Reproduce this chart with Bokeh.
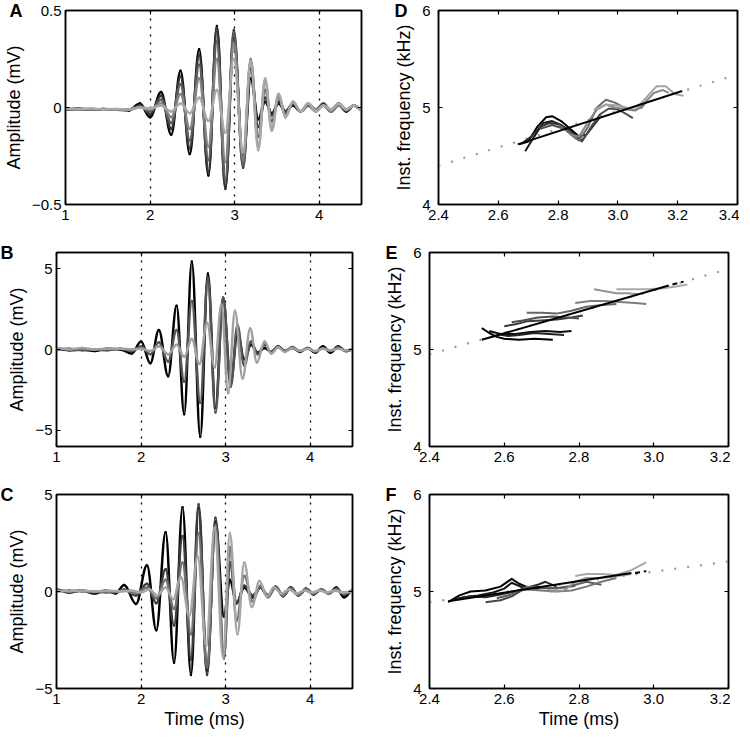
from bokeh.plotting import figure
from bokeh.models import Range1d, LinearAxis, FixedTicker, Title, PrintfTickFormatter, ColumnDataSource
from bokeh.layouts import column, row
from bokeh.embed import file_html
from bokeh.resources import INLINE

FONT = "Liberation Sans"
TICK_SIZE = "15px"
AXLAB_SIZE = "18px"

# ---------------- left panels: waveforms (successive extrema) ----------------
tA = [1.00, 1.15, 1.30, 1.45, 1.60, 1.75, 1.88, 2.00, 2.13, 2.25, 2.36, 2.47, 2.58, 2.69, 2.79, 2.89, 2.99,
      3.10, 3.19, 3.28, 3.36, 3.44, 3.52, 3.60, 3.69, 3.78, 3.87, 3.96, 4.05, 4.14, 4.23, 4.32, 4.41, 4.50]
vA1 = [-0.01, -0.005, -0.012, -0.008, -0.012, -0.015, 0.02, -0.05, 0.08, -0.14, 0.19, -0.24, 0.30, -0.35, 0.42, -0.41, 0.36,
       -0.27, 0.15, -0.06, 0.03, -0.03, 0.02, -0.02, 0.01, -0.02, 0.01, -0.01, 0.01, -0.02, 0.02, -0.02, 0.01, -0.01]
vA2 = [-0.01, -0.008, -0.01, -0.01, -0.01, -0.012, 0.012, -0.035, 0.06, -0.11, 0.16, -0.21, 0.27, -0.33, 0.41, -0.42, 0.40,
       -0.31, 0.20, -0.10, 0.05, -0.04, 0.03, -0.02, 0.02, -0.02, 0.01, -0.01, 0.02, -0.02, 0.01, -0.02, 0.01, -0.01]
vA3 = [-0.008, -0.01, -0.008, -0.01, -0.01, -0.01, 0.005, -0.02, 0.04, -0.08, 0.12, -0.17, 0.22, -0.27, 0.34, -0.37, 0.38,
       -0.30, 0.24, -0.15, 0.09, -0.07, 0.05, -0.03, 0.02, -0.02, 0.01, -0.02, 0.01, -0.01, 0.02, -0.01, 0.01, -0.01]
vA4 = [-0.008, -0.008, -0.01, -0.008, -0.01, -0.01, 0.0, -0.01, 0.02, -0.05, 0.07, -0.11, 0.15, -0.20, 0.25, -0.28, 0.33,
       -0.27, 0.25, -0.20, 0.14, -0.11, 0.07, -0.05, 0.03, -0.02, 0.02, -0.01, 0.01, -0.02, 0.01, -0.01, 0.01, -0.01]
vA5 = [-0.005, -0.008, -0.005, -0.01, -0.008, -0.01, 0.0, -0.005, 0.01, -0.02, 0.02, -0.03, 0.05, -0.07, 0.09, -0.13, 0.25,
       -0.23, 0.24, -0.22, 0.15, -0.12, 0.07, -0.05, 0.03, -0.02, 0.02, -0.02, 0.01, -0.01, 0.02, -0.01, 0.01, -0.01]

tB = [1.00, 1.15, 1.30, 1.45, 1.60, 1.75, 1.89, 2.00, 2.11, 2.21, 2.32, 2.42, 2.51, 2.60, 2.70, 2.79, 2.88, 2.97,
      3.06, 3.14, 3.22, 3.30, 3.38, 3.46, 3.54, 3.62, 3.70, 3.79, 3.88, 3.97, 4.06, 4.15, 4.24, 4.33, 4.42, 4.50]
vB1 = [0.05, -0.05, 0.0, -0.1, 0.05, 0.0, -0.25, 0.5, -0.85, 1.2, -1.65, 2.7, -4.0, 5.45, -5.4, 4.7, -3.6, 3.2,
       -2.0, 1.0, -0.6, 0.3, -0.2, 0.1, -0.15, 0.2, -0.1, 0.1, -0.15, 0.1, -0.2, 0.2, -0.2, 0.2, -0.1, 0.0]
vB2 = [0.0, 0.05, -0.05, 0.0, -0.05, 0.05, -0.1, 0.2, -0.3, 0.45, -0.75, 1.2, -2.0, 3.0, -3.3, 4.4, -3.9, 3.2,
       -2.3, 1.5, -1.0, 0.5, -0.3, 0.3, -0.2, 0.15, -0.1, 0.15, -0.1, 0.1, -0.15, 0.1, -0.1, 0.15, -0.1, 0.0]
tB3 = [1.00, 1.15, 1.30, 1.45, 1.60, 1.75, 1.89, 2.00, 2.11, 2.21, 2.32, 2.42, 2.51, 2.60, 2.69, 2.78, 2.87, 2.95,
       3.03, 3.11, 3.20, 3.29, 3.37, 3.46, 3.54, 3.62, 3.70, 3.79, 3.88, 3.97, 4.06, 4.15, 4.24, 4.33, 4.42, 4.50]
vB3 = [0.1, 0.0, 0.1, 0.0, 0.05, 0.05, 0.0, 0.05, -0.1, 0.2, -0.3, 0.3, -0.45, 0.65, -0.9, 1.65, -1.1, 2.8,
       -2.7, 2.4, -1.8, 1.3, -0.8, 0.5, -0.25, 0.15, -0.15, 0.1, -0.1, 0.05, -0.1, 0.05, -0.05, 0.05, -0.05, 0.0]

tC = [1.00, 1.15, 1.30, 1.45, 1.58, 1.70, 1.80, 1.94, 2.07, 2.18, 2.29, 2.39, 2.49, 2.59, 2.68, 2.78, 2.88,
      2.98, 3.05, 3.13, 3.22, 3.32, 3.41, 3.50, 3.59, 3.68, 3.77, 3.86, 3.95, 4.04, 4.13, 4.22, 4.31, 4.40, 4.50]
vC1 = [0.1, -0.05, 0.05, -0.1, 0.05, -0.1, 0.34, -0.64, 1.35, -2.0, 3.06, -3.67, 4.34, -4.3, 4.3, -4.1, 3.6,
       -1.3, 0.6, -0.6, 0.2, -0.3, 0.2, -0.2, 0.25, -0.2, 0.2, -0.2, 0.1, -0.15, 0.1, -0.1, 0.2, -0.3, 0.05]
vC2 = [0.05, 0.0, 0.05, -0.05, 0.0, -0.05, 0.1, -0.2, 0.4, -0.6, 1.15, -1.75, 2.86, -3.5, 4.5, -4.3, 3.8,
       -3.3, 1.5, -0.6, 0.3, -0.2, 0.2, -0.2, 0.2, -0.25, 0.2, -0.2, 0.15, -0.1, 0.1, -0.1, 0.15, -0.15, 0.05]
vC3 = [0.0, 0.05, 0.0, 0.0, -0.05, 0.0, 0.05, -0.1, 0.2, -0.35, 0.6, -0.9, 1.5, -2.2, 3.0, -3.9, 3.4,
       -3.45, 2.3, -1.5, 0.8, -0.5, 0.3, -0.3, 0.2, -0.2, 0.15, -0.2, 0.1, -0.1, 0.1, -0.1, 0.1, -0.1, 0.0]
tC4 = [1.00, 1.15, 1.30, 1.45, 1.60, 1.75, 1.88, 2.00, 2.10, 2.19, 2.29, 2.38, 2.47, 2.57, 2.67, 2.77, 2.87,
       2.97, 3.05, 3.14, 3.22, 3.31, 3.40, 3.49, 3.57, 3.66, 3.75, 3.84, 3.93, 4.02, 4.11, 4.20, 4.29, 4.38, 4.50]
vC4 = [0.05, 0.0, 0.05, 0.0, 0.05, 0.0, 0.05, -0.05, 0.1, -0.2, 0.2, -0.4, 0.75, -1.26, 1.8, -2.8, 3.3,
       -3.4, 3.0, -2.2, 1.5, -0.8, 0.54, -0.25, 0.2, -0.1, 0.1, -0.1, 0.05, -0.05, 0.05, -0.05, 0.05, -0.05, 0.0]

wave_grid_times = [2, 3, 4]

# ---------------- right panels: instantaneous frequency ----------------
dT = [
    [2.67, 2.70, 2.73, 2.76, 2.78, 2.81, 2.84, 2.87, 2.89],
    [2.69, 2.72, 2.75, 2.78, 2.81, 2.84, 2.87],
    [2.68, 2.71, 2.74, 2.77, 2.80, 2.83, 2.86, 2.88, 2.91, 2.94],
    [2.74, 2.78, 2.82, 2.86, 2.88, 2.91, 2.94, 2.97, 3.00, 3.03, 3.05],
    [2.80, 2.84, 2.87, 2.90, 2.93, 2.96, 2.99, 3.02, 3.05, 3.08, 3.10],
    [2.84, 2.87, 2.90, 2.93, 2.96, 2.99, 3.03, 3.06, 3.09, 3.12, 3.15, 3.17],
    [2.92, 2.96, 3.00, 3.04, 3.07, 3.10, 3.13, 3.16, 3.19, 3.22],
]
dF = [
    [4.62, 4.65, 4.80, 4.90, 4.91, 4.86, 4.78, 4.70, 4.72],
    [4.55, 4.70, 4.84, 4.86, 4.82, 4.75, 4.69],
    [4.63, 4.70, 4.80, 4.84, 4.83, 4.78, 4.70, 4.66, 4.78, 4.90],
    [4.78, 4.82, 4.78, 4.68, 4.65, 4.80, 4.93, 4.99, 4.98, 4.93, 4.89],
    [4.82, 4.74, 4.66, 4.80, 5.00, 5.08, 5.05, 5.00, 4.97, 5.00, 5.08],
    [4.72, 4.70, 4.85, 4.98, 5.03, 5.00, 4.98, 4.97, 5.05, 5.15, 5.18, 5.15],
    [4.98, 5.03, 5.02, 4.99, 5.02, 5.12, 5.22, 5.22, 5.14, 5.12],
]
d_fit_t, d_fit_f = [2.665, 3.215], [4.62, 5.17]
d_ext_t, d_ext_f = [2.40, 3.40], [4.40, 5.34]

eT = [
    [2.54, 2.56, 2.58, 2.60, 2.64, 2.68, 2.73],
    [2.56, 2.59, 2.63, 2.67, 2.71, 2.75, 2.78],
    [2.58, 2.61, 2.64, 2.68, 2.72, 2.76],
    [2.60, 2.63, 2.66, 2.70, 2.74, 2.78, 2.81],
    [2.62, 2.65, 2.69, 2.73, 2.77, 2.80],
    [2.66, 2.70, 2.74, 2.78, 2.82, 2.86, 2.90],
    [2.79, 2.83, 2.87, 2.91, 2.95, 2.98],
    [2.84, 2.87, 2.90, 2.93, 2.96],
    [2.90, 2.94, 2.98, 3.02, 3.06, 3.09],
]
eF = [
    [5.22, 5.17, 5.13, 5.11, 5.10, 5.11, 5.10],
    [5.19, 5.16, 5.16, 5.18, 5.19, 5.18, 5.19],
    [5.16, 5.14, 5.15, 5.17, 5.16, 5.15],
    [5.24, 5.26, 5.29, 5.30, 5.31, 5.33, 5.35],
    [5.28, 5.30, 5.33, 5.34, 5.33, 5.32],
    [5.38, 5.38, 5.37, 5.40, 5.44, 5.46, 5.47],
    [5.48, 5.50, 5.50, 5.49, 5.48, 5.47],
    [5.62, 5.60, 5.58, 5.58, 5.57],
    [5.62, 5.62, 5.62, 5.63, 5.65, 5.67],
]
e_fit_t, e_fit_f = [2.54, 3.04], [5.10, 5.66]
e_ext_t, e_ext_f = [2.40, 3.20], [4.95, 5.83]
e_dash_t, e_dash_f = [3.05, 3.08], [5.67, 5.70]

fT = [
    [2.45, 2.48, 2.51, 2.55, 2.59, 2.62, 2.64, 2.67],
    [2.46, 2.49, 2.53, 2.57, 2.60, 2.62, 2.65, 2.68, 2.71],
    [2.47, 2.51, 2.55, 2.59, 2.63, 2.66, 2.69, 2.71, 2.74],
    [2.55, 2.59, 2.62, 2.65, 2.68, 2.72, 2.76, 2.79],
    [2.58, 2.62, 2.66, 2.70, 2.74, 2.78, 2.82, 2.86],
    [2.62, 2.66, 2.70, 2.74, 2.78, 2.82, 2.86, 2.90],
    [2.72, 2.76, 2.79, 2.82, 2.86, 2.90, 2.94],
    [2.79, 2.82, 2.86, 2.90, 2.94, 2.98],
]
fF = [
    [4.89, 4.96, 5.00, 5.01, 5.05, 5.13, 5.08, 5.03],
    [4.91, 4.94, 4.96, 4.99, 5.03, 5.09, 5.04, 5.02, 5.05],
    [4.92, 4.95, 4.94, 4.97, 5.00, 5.04, 5.07, 5.10, 5.05],
    [4.89, 4.91, 4.95, 5.02, 5.05, 5.03, 5.04, 5.06],
    [4.93, 4.97, 5.05, 5.04, 5.03, 5.06, 5.10, 5.07],
    [5.00, 5.02, 5.01, 5.00, 5.01, 5.05, 5.10, 5.14],
    [5.00, 5.01, 5.10, 5.14, 5.14, 5.16, 5.18],
    [5.16, 5.18, 5.18, 5.17, 5.22, 5.30],
]
f_fit_t, f_fit_f = [2.45, 2.94], [4.90, 5.19]
f_ext_t, f_ext_f = [2.40, 3.20], [4.89, 5.31]
f_dash_t, f_dash_f = [2.95, 2.98], [5.19, 5.21]

x_ticks_wave = [1, 2, 3, 4]
x_ticks_D = [2.4, 2.6, 2.8, 3.0, 3.2, 3.4]
x_ticks_EF = [2.4, 2.6, 2.8, 3.0, 3.2]
y_ticks_A = [-0.5, 0, 0.5]
y_ticks_BC = [-5, 0, 5]
y_ticks_freq = [4, 5, 6]

FRAME_H = 194
LEFT_W, RIGHT_W = 296, 299
TOP_BORDER = 10


def box_axis(ticks):
    # unlabeled axis used only for the inward ticks on the top / right edges of the box
    return LinearAxis(ticker=FixedTicker(ticks=ticks),
                      major_label_overrides={t: "" for t in ticks},
                      major_label_text_font_size="1px", major_label_standoff=0,
                      major_tick_in=4, major_tick_out=0, minor_tick_line_color=None,
                      axis_line_width=1.5, major_tick_line_width=1.2)


def base_fig(xr, yr, xticks, yticks, frame_w, border_left, border_right, border_bottom,
             xlabel=None, ylabel=None, lab_standoff=4, ylab_standoff=5, overrides=None):
    p = figure(frame_width=frame_w, frame_height=FRAME_H,
               x_range=Range1d(*xr), y_range=Range1d(*yr),
               output_backend="svg", toolbar_location=None, tools="",
               min_border_left=border_left, min_border_right=border_right,
               min_border_top=TOP_BORDER, min_border_bottom=border_bottom,
               background_fill_color="white", border_fill_color="white")
    p.outline_line_color = "black"
    p.outline_line_width = 1.5
    p.ygrid.visible = False
    p.xgrid.visible = False
    p.xaxis.ticker = FixedTicker(ticks=xticks)
    p.yaxis.ticker = FixedTicker(ticks=yticks)
    if overrides:
        p.yaxis.major_label_overrides = overrides
    for ax in list(p.xaxis) + list(p.yaxis):
        ax.major_tick_in = 4
        ax.major_tick_out = 0
        ax.minor_tick_line_color = None
        ax.axis_line_width = 1.5
        ax.major_tick_line_width = 1.2
        ax.major_label_text_font = FONT
        ax.major_label_text_font_size = TICK_SIZE
        ax.major_label_text_color = "black"
        ax.axis_label_text_font = FONT
        ax.axis_label_text_font_size = AXLAB_SIZE
        ax.axis_label_text_font_style = "normal"
        ax.axis_label_text_color = "black"
    p.xaxis.major_label_standoff = 5
    p.yaxis.major_label_standoff = lab_standoff
    p.yaxis.axis_label_standoff = ylab_standoff
    p.xaxis.axis_label_standoff = 2
    if xlabel:
        p.xaxis.axis_label = xlabel
    if ylabel:
        p.yaxis.axis_label = ylabel
    p.add_layout(box_axis(xticks), "above")
    p.add_layout(box_axis(yticks), "right")
    return p


def letter(p, txt, dx, standoff):
    # panel letter drawn as a title in the top border, pulled down to the frame's top edge
    p.add_layout(Title(text=txt, align="left", vertical_align="bottom", offset=dx, standoff=standoff,
                       text_font=FONT, text_font_size="18px", text_font_style="bold",
                       text_color="black"), "above")


def smooth_trace(p, t, v, color):
    # smooth curve through successive extrema (horizontal tangent at each extremum)
    k = 0.3642
    x0, x1 = t[:-1], t[1:]
    y0, y1 = v[:-1], v[1:]
    src = ColumnDataSource(dict(
        x0=x0, y0=y0, x1=x1, y1=y1,
        cx0=[a + k * (b - a) for a, b in zip(x0, x1)], cy0=y0,
        cx1=[b - k * (b - a) for a, b in zip(x0, x1)], cy1=y1))
    p.bezier(x0="x0", y0="y0", x1="x1", y1="y1", cx0="cx0", cy0="cy0", cx1="cx1", cy1="cy1",
             source=src, line_color=color, line_width=2.5, line_cap="round")


def wave_panel(yr, yticks, traces, txt, border_bottom, xlabel=None, overrides=None):
    xr = (1, 4.5)
    p = base_fig(xr, yr, x_ticks_wave, yticks, LEFT_W, 56, 28, border_bottom,
                 xlabel=xlabel, ylabel="Amplitude (mV)", overrides=overrides)
    p.xgrid.visible = True
    p.xgrid.ticker = FixedTicker(ticks=wave_grid_times)
    p.xgrid.grid_line_color = "black"
    p.xgrid.grid_line_dash = "2 6"
    p.xgrid.grid_line_width = 1.3
    for t, v, c in traces:
        smooth_trace(p, t, v, c)
    letter(p, txt, -56, -21)
    return p


def freq_panel(xr, xticks, times, freqs, colors, fit_t, fit_f, ext_t, ext_f, txt, border_bottom,
               dash=None, xlabel=None):
    yr = (4, 6)
    p = base_fig(xr, yr, xticks, y_ticks_freq, RIGHT_W, 49, 2, border_bottom,
                 xlabel=xlabel, ylabel="Inst. frequency (kHz)", lab_standoff=8, ylab_standoff=5)
    p.xaxis.formatter = PrintfTickFormatter(format="%.1f")
    p.line(ext_t, ext_f, line_color="#9a9a9a", line_width=2.2, line_dash="2 11")
    for t, f, c in zip(times, freqs, colors):
        p.line(t, f, line_color=c, line_width=2.0, line_join="round")
    p.line(fit_t, fit_f, line_color="black", line_width=2.0)
    if dash:
        p.line(dash[0], dash[1], line_color="black", line_width=2.0, line_dash="5 4")
    letter(p, txt, -44, -21)
    return p


pA = wave_panel((-0.5, 0.5), y_ticks_A,
                [(tA, vA1, "#000000"), (tA, vA2, "#383838"), (tA, vA3, "#5e5e5e"),
                 (tA, vA4, "#838383"), (tA, vA5, "#a8a8a8")],
                "A", 38, overrides={0: "0"})
pB = wave_panel((-6, 6), y_ticks_BC,
                [(tB, vB1, "#000000"), (tB, vB2, "#555555"), (tB3, vB3, "#a0a0a0")],
                "B", 38)
pC = wave_panel((-5, 5), y_ticks_BC,
                [(tC, vC1, "#000000"), (tC, vC2, "#3c3c3c"), (tC, vC3, "#707070"), (tC4, vC4, "#a6a6a6")],
                "C", 36, xlabel="Time (ms)")

pD = freq_panel((2.4, 3.4), x_ticks_D, dT, dF,
                ["#000000", "#1a1a1a", "#2e2e2e", "#4d4d4d", "#6b6b6b", "#878787", "#a3a3a3"],
                d_fit_t, d_fit_f, d_ext_t, d_ext_f, "D", 38)
pE = freq_panel((2.4, 3.2), x_ticks_EF, eT, eF,
                ["#000000", "#0d0d0d", "#222222", "#3a3a3a", "#505050", "#666666", "#7d7d7d", "#939393", "#aaaaaa"],
                e_fit_t, e_fit_f, e_ext_t, e_ext_f, "E", 38, dash=(e_dash_t, e_dash_f))
pF = freq_panel((2.4, 3.2), x_ticks_EF, fT, fF,
                ["#000000", "#151515", "#2b2b2b", "#454545", "#5e5e5e", "#777777", "#909090", "#a8a8a8"],
                f_fit_t, f_fit_f, f_ext_t, f_ext_f, "F", 36, dash=(f_dash_t, f_dash_f),
                xlabel="Time (ms)")

layout = column(row(pA, pD), row(pB, pE), row(pC, pF))

with open("out.html", "w") as fh:
    fh.write(file_html(layout, INLINE, title="Waveforms and instantaneous frequency"))
